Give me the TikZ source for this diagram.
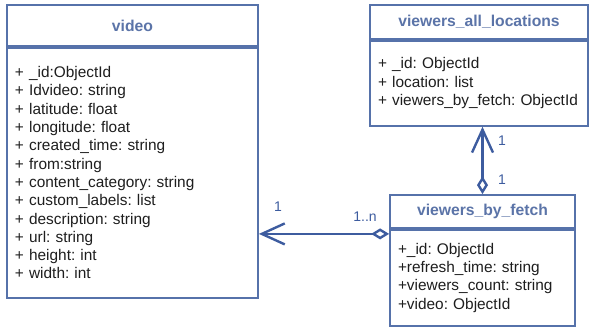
\documentclass[tikz,border=0pt]{standalone}
\usepackage{fontspec}
\setmainfont{Liberation Sans}
\usetikzlibrary{positioning,arrows.meta}
\definecolor{umlframe}{HTML}{5672AA}
\definecolor{umlline}{HTML}{3D5C9F}
\definecolor{umltitle}{HTML}{5B74A8}
\definecolor{umltext}{HTML}{1E1E1E}
\frenchspacing

\begin{document}
\begin{tikzpicture}[x=1pt,y=-1pt,
  every node/.style={draw=umlframe,line width=1.8pt,fill=white},
  classhead/.style={font=\fontsize{15.7}{18}\selectfont\bfseries,text=umltitle,inner sep=0pt},
  classbody/.style={font=\fontsize{15.4}{18.3}\selectfont,text=umltext,align=left,inner xsep=8pt,inner ysep=0pt},
  mult/.style={draw=none,fill=none,text=umlline,font=\fontsize{14}{14}\selectfont,inner sep=0pt},
  assoc/.style={draw=umlline,line width=2.4pt,{Diamond[open,length=18pt,width=11pt]}-{Straight Barb[length=23pt,width=21pt]}}]
\useasboundingbox (0,0) rectangle (592,330);
% classes
\node[classhead,minimum width=251pt,minimum height=41pt] (videohead) at (132.5,25.5) {video};
\node[classbody,below=0pt of videohead,minimum width=251pt,minimum height=250pt,text width=235pt] (videobody) {%
+ \_id:ObjectId\\
+ Idvideo: string\\
+ latitude: float\\
+ longitude: float\\
+ created\_time: string\\
+ from:string\\
+ content\_category: string\\
+ custom\_labels: list\\
+ description: string\\
+ url: string\\
+ height: int\\
+ width: int};
\node[classhead,minimum width=218pt,minimum height=34pt] (allhead) at (479,22) {viewers\_all\_locations};
\node[classbody,below=0pt of allhead,minimum width=218pt,minimum height=85pt,text width=202pt] (allbody) {%
+ \_id: ObjectId\\
+ location: list\\
+ viewers\_by\_fetch: ObjectId};
\node[classhead,minimum width=185pt,minimum height=33pt] (fetchhead) at (482.5,211.5) {viewers\_by\_fetch};
\node[classbody,below=0pt of fetchhead,minimum width=185pt,minimum height=96pt,text width=169pt] (fetchbody) {%
+\_id: ObjectId\\
+refresh\_time: string\\
+viewers\_count: string\\
+video: ObjectId};
% links
\draw[assoc] (fetchhead.north) -- (fetchhead.north |- allbody.south);
\draw[assoc] ([yshift=-5pt]fetchbody.north west) -- ([yshift=-5pt]fetchbody.north west -| videobody.east);
% multiplicities
\node[mult] (allmult) at (502,141) {1};
\node[mult] (fetchmult) at (502,180) {1};
\node[mult] (manymult) at (365,217) {1..n};
\node[mult] (videomult) at (278,207) {1};
\end{tikzpicture}
\end{document}
